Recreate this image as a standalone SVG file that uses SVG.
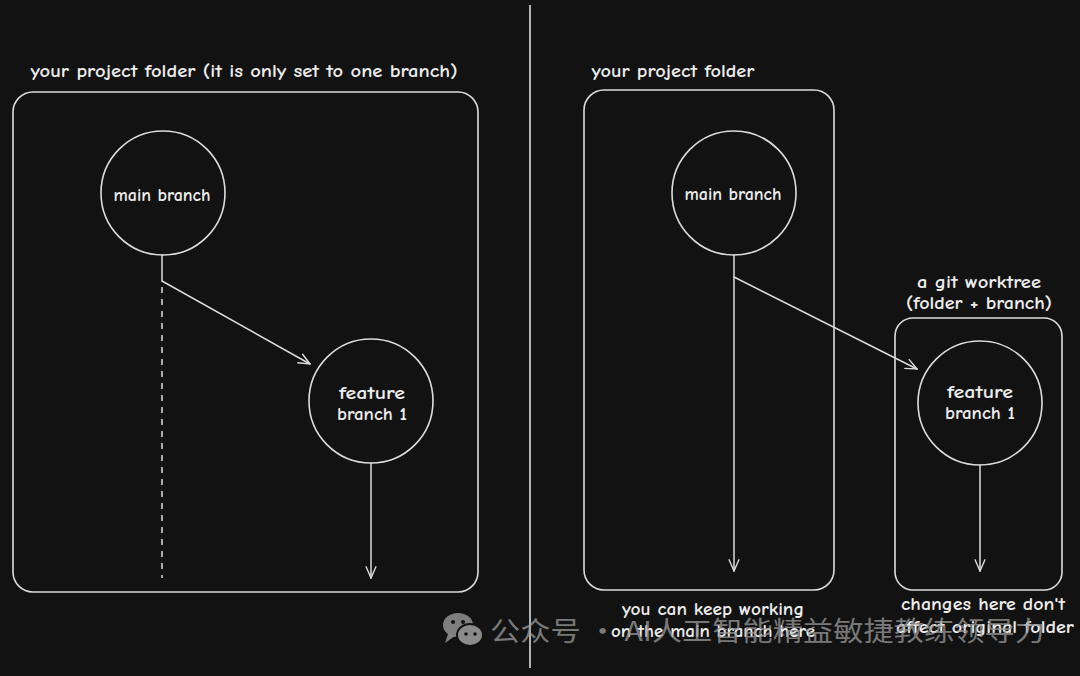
<svg xmlns="http://www.w3.org/2000/svg" width="1080" height="676" viewBox="0 0 1080 676">
<defs>
<style>
.bg{fill:#121212}
.box{fill:none;stroke:#dcdcdc;stroke-width:1.6}
.ln{fill:none;stroke:#dcdcdc;stroke-width:1.5;stroke-linecap:round}
.dash{fill:none;stroke:#dcdcdc;stroke-width:1.5;stroke-dasharray:6 6}
.t{font-family:"Comic Neue","Liberation Sans","DejaVu Sans",sans-serif;fill:#ececec;font-size:17px;font-weight:bold;text-anchor:middle}
.wm{font-family:"Noto Sans CJK SC","Noto Sans",sans-serif;fill:#9a9a9a;fill-opacity:0.75;font-size:27px}
</style>
<marker id="ah" viewBox="0 0 20 20" refX="18" refY="10" markerWidth="14" markerHeight="14" markerUnits="userSpaceOnUse" orient="auto">
<path d="M2,3 L18,10 L2,17" fill="none" stroke="#dcdcdc" stroke-width="2" stroke-linecap="round"/>
</marker>
</defs>
<rect class="bg" x="0" y="0" width="1080" height="676"/>
<line x1="530" y1="5" x2="530" y2="668" stroke="#dcdcdc" stroke-width="1.6"/>

<g id="left-folder">
<rect class="box" x="13" y="92" width="465" height="500" rx="20"/>
<text class="t" x="244" y="77" textLength="427" lengthAdjust="spacingAndGlyphs">your project folder (it is only set to one branch)</text>
</g>
<g id="left-main">
<circle class="box" cx="163" cy="193" r="62"/>
<text class="t" x="162" y="201" textLength="97" lengthAdjust="spacingAndGlyphs">main branch</text>
</g>
<g id="left-feature">
<circle class="box" cx="371" cy="401" r="62"/>
<text class="t" x="372" y="399" textLength="66" lengthAdjust="spacingAndGlyphs">feature</text>
<text class="t" x="372" y="420" textLength="70" lengthAdjust="spacingAndGlyphs">branch 1</text>
</g>

<g id="right-folder">
<rect class="box" x="584" y="90" width="250" height="500" rx="20"/>
<text class="t" x="673" y="77" textLength="163" lengthAdjust="spacingAndGlyphs">your project folder</text>
</g>
<g id="right-main">
<circle class="box" cx="734" cy="193" r="62"/>
<text class="t" x="733" y="200" textLength="97" lengthAdjust="spacingAndGlyphs">main branch</text>
</g>
<g id="worktree">
<rect class="box" x="895" y="318" width="167" height="272" rx="18"/>
<text class="t" x="979" y="288" textLength="124" lengthAdjust="spacingAndGlyphs">a git worktree</text>
<text class="t" x="979" y="309" textLength="146" lengthAdjust="spacingAndGlyphs">(folder + branch)</text>
</g>
<g id="right-feature">
<circle class="box" cx="980" cy="403" r="62"/>
<text class="t" x="980" y="398" textLength="66" lengthAdjust="spacingAndGlyphs">feature</text>
<text class="t" x="980" y="419" textLength="70" lengthAdjust="spacingAndGlyphs">branch 1</text>
</g>
<g id="note-left">
<text class="t" x="713" y="615" textLength="182" lengthAdjust="spacingAndGlyphs">you can keep working</text>
<text class="t" x="713" y="637" textLength="204" lengthAdjust="spacingAndGlyphs">on the main branch here</text>
</g>
<g id="note-right">
<text class="t" x="983" y="610" textLength="164" lengthAdjust="spacingAndGlyphs">changes here don't</text>
<text class="t" x="985" y="633" textLength="178" lengthAdjust="spacingAndGlyphs">affect original folder</text>
</g>

<g id="connectors">
<line class="ln" x1="162" y1="255" x2="162" y2="281"/>
<line class="dash" x1="162" y1="287" x2="162" y2="578"/>
<line class="ln" x1="162" y1="281" x2="310" y2="364" marker-end="url(#ah)"/>
<line class="ln" x1="371" y1="463" x2="371" y2="578" marker-end="url(#ah)"/>
<line class="ln" x1="734" y1="255" x2="734" y2="571" marker-end="url(#ah)"/>
<line class="ln" x1="734" y1="277" x2="917" y2="369" marker-end="url(#ah)"/>
<line class="ln" x1="980" y1="465" x2="980" y2="571" marker-end="url(#ah)"/>
</g>

<g id="watermark">
<ellipse cx="458" cy="625" rx="15" ry="12" fill="#9a9a9a" fill-opacity="0.8"/>
<path d="M448,634 L445,643 L455,636 Z" fill="#9a9a9a" fill-opacity="0.8"/>
<ellipse cx="470" cy="635" rx="13" ry="11" fill="#8a8a8a" stroke="#121212" stroke-width="2"/>
<circle cx="453" cy="622" r="2" fill="#121212"/>
<circle cx="463" cy="622" r="2" fill="#121212"/>
<circle cx="466" cy="634" r="1.8" fill="#121212"/>
<circle cx="475" cy="634" r="1.8" fill="#121212"/>
<text class="wm" x="490" y="641" textLength="555" lengthAdjust="spacingAndGlyphs">公众号 · AI人工智能精益敏捷教练领导力</text>
</g>
</svg>
